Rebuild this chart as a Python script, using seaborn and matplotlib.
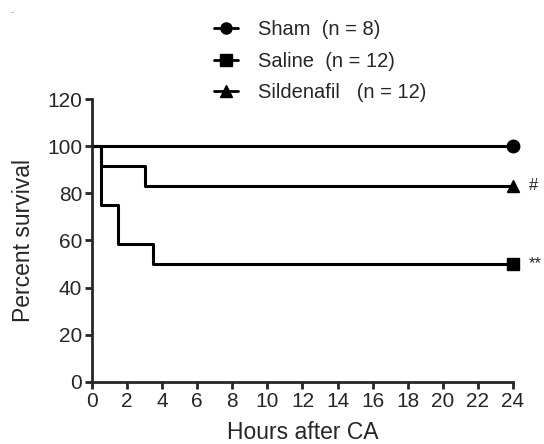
import numpy as np
import pandas as pd
import matplotlib
matplotlib.use("Agg")
import matplotlib.pyplot as plt
from matplotlib.lines import Line2D
import seaborn as sns

# Datos (Kaplan-Meier)
grupos = ["Sham", "Saline", "Sildenafil"]
etiquetas = ["Sham  (n = 8)", "Saline  (n = 12)", "Sildenafil   (n = 12)"]
marcadores = ["o", "s", "^"]
sham_t = [0, 24]
sham_s = [100, 100]
saline_t = [0, 0.5, 1.5, 3.5, 24]
saline_s = [100, 75, 58.3, 50, 50]
silden_t = [0, 0.5, 3, 24]
silden_s = [100, 91.7, 83.3, 83.3]
signos = ["", "**", "#"]

sns.set_style("ticks")
plt.rcParams["font.family"] = ["Liberation Sans", "DejaVu Sans"]

filas = []
for g, t, s in zip(grupos, [sham_t, saline_t, silden_t], [sham_s, saline_s, silden_s]):
    for ti, si in zip(t, s):
        filas.append({"Grupo": g, "Horas": ti, "Supervivencia": si})
df = pd.DataFrame(filas)

fig = plt.figure(figsize=(5.44, 4.44), dpi=100)
ax = fig.add_axes([0.169, 0.140, 0.774, 0.637])

for g, m, sg in zip(grupos, marcadores, signos):
    d = df[df["Grupo"] == g]
    sns.lineplot(data=d, x="Horas", y="Supervivencia", drawstyle="steps-post",
                 color="black", linewidth=2.2, ax=ax, legend=False)
    ult = d.iloc[-1]
    ax.plot(ult["Horas"], ult["Supervivencia"], marker=m, color="black",
            markersize=9, clip_on=False, linestyle="none")
    if sg:
        ax.text(ult["Horas"] + 0.9, ult["Supervivencia"], sg, fontsize=12,
                va="center", ha="left")

ax.set_xlim(0, 24)
ax.set_ylim(0, 120)
ax.set_xticks(range(0, 25, 2))
ax.set_yticks(range(0, 121, 20))
ax.tick_params(labelsize=15, width=2, length=5, direction="out", pad=2)
for lado in ["top", "right"]:
    ax.spines[lado].set_visible(False)
for lado in ["left", "bottom"]:
    ax.spines[lado].set_linewidth(2)
ax.set_xlabel("Hours after CA", fontsize=16.5)
ax.set_ylabel("Percent survival", fontsize=16.5)
ax.xaxis.set_label_coords(0.5, -0.138)
ax.yaxis.set_label_coords(-0.136, 0.5)

manejadores = [Line2D([0], [0], color="black", linewidth=2, marker=m, markersize=8)
               for m in marcadores]
fig.legend(manejadores, etiquetas, loc="upper left", bbox_to_anchor=(0.36, 0.995),
           frameon=False, fontsize=14.5, handlelength=1.2, labelspacing=0.62,
           handletextpad=1.0)
fig.text(0.02, 0.965, "-", fontsize=7, color="#999999")

fig.savefig("out.png", dpi=100)
